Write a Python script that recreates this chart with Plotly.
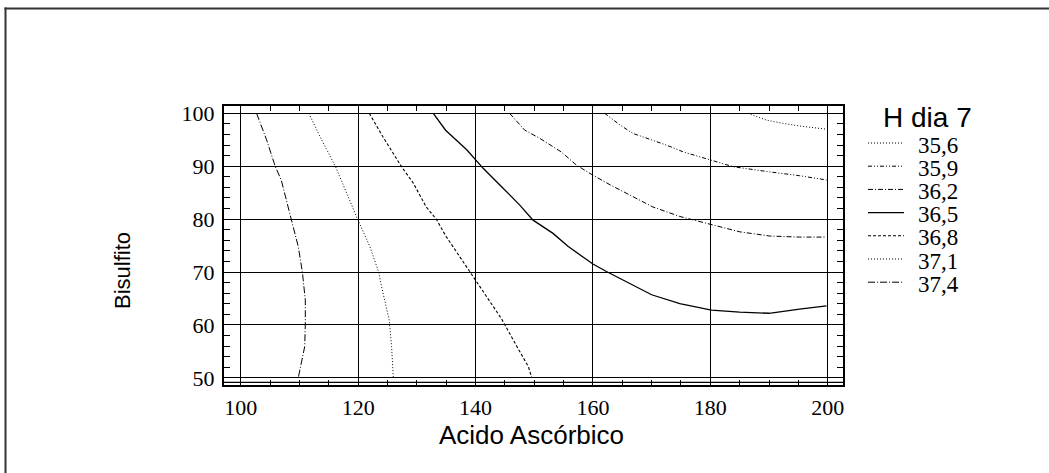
import plotly.graph_objects as go

# Contour levels of "H dia 7" and their line styles
levels = ["35,6", "35,9", "36,2", "36,5", "36,8", "37,1", "37,4"]

# Points (Acido Ascórbico, Bisulfito)
x_356 = [186.4, 189.6, 192.4, 195.2, 199.8]
y_356 = [100.0, 98.7, 98.1, 97.6, 97.0]

x_359 = [162.0, 164.6, 166.8, 170.0, 172.5, 175.4, 180.2, 183.9, 189.6, 195.2, 199.8]
y_359 = [100.0, 97.8, 96.2, 95.0, 94.0, 92.7, 91.2, 89.9, 89.0, 88.2, 87.4]

x_362 = [145.8, 148.4, 150.9, 154.6, 157.2, 160.0, 162.9, 165.7, 170.2, 174.8, 180.2, 185.0, 190.1, 195.2, 199.8]
y_362 = [100.0, 96.8, 95.3, 92.7, 90.2, 88.3, 86.5, 84.9, 82.3, 80.5, 78.9, 77.6, 76.8, 76.6, 76.6]

x_365 = [132.8, 134.9, 138.5, 140.0, 141.3, 144.1, 147.5, 149.8, 153.2, 155.8, 160.0, 162.3, 165.7, 170.0, 174.8, 180.2, 185.0, 190.0, 195.2, 199.8]
y_365 = [100.0, 96.8, 93.1, 91.2, 89.6, 86.5, 82.7, 79.8, 77.3, 74.8, 71.5, 70.1, 68.2, 65.7, 64.0, 62.8, 62.4, 62.2, 63.0, 63.6]

x_368 = [121.9, 124.2, 127.4, 129.4, 131.6, 133.3, 135.0, 137.3, 140.0, 142.7, 144.4, 146.4, 149.0, 149.6]
y_368 = [100.0, 95.6, 89.9, 86.8, 82.3, 80.0, 76.7, 72.9, 68.5, 64.1, 61.2, 57.2, 52.1, 50.0]

x_371 = [111.6, 113.5, 116.2, 118.0, 119.9, 122.0, 123.5, 124.0, 125.3, 125.7, 126.0]
y_371 = [100.0, 95.6, 89.8, 84.9, 80.0, 74.8, 70.0, 67.2, 60.9, 55.9, 50.0]

x_374 = [102.7, 104.4, 105.9, 106.9, 108.6, 109.8, 110.5, 111.0, 111.0, 110.9, 109.8]
y_374 = [100.0, 95.0, 89.9, 87.4, 80.0, 74.8, 70.0, 64.7, 60.1, 55.9, 50.0]

xs = [x_356, x_359, x_362, x_365, x_368, x_371, x_374]
ys = [y_356, y_359, y_362, y_365, y_368, y_371, y_374]

x_ticks = [100, 120, 140, 160, 180, 200]
y_ticks = [50, 60, 70, 80, 90, 100]

x_title = "Acido Ascórbico"
y_title = "Bisulfito"
legend_title = "H dia 7"

dashes = ["1px,2px", "4px,2px,1px,2px,1px,2px", "5px,2px,1px,2px", "solid",
          "3px,2px", "1px,2px", "7px,2px,1px,2px"]
widths = [1, 1, 1, 1.3, 1.1, 1, 1]

W, H = 1049, 473
L, R, T, B = 224, 843, 106, 385
pw, ph = R - L, B - T

def px(xp):
    return (xp - L) / pw

def py(yp):
    return (B - yp) / ph

fig = go.Figure()
for xv, yv, d, w, name in zip(xs, ys, dashes, widths, levels):
    fig.add_trace(go.Scatter(x=xv, y=yv, mode="lines", name=name,
                             line=dict(color="black", width=w, dash=d),
                             showlegend=False, hoverinfo="skip"))

serif = "Liberation Serif"
sans = "Liberation Sans"

shapes = []
annotations = []

# outer border (only top and left edges visible)
shapes.append(dict(type="line", xref="paper", yref="paper",
                   x0=px(4.5), x1=px(1049), y0=py(8.5), y1=py(8.5),
                   line=dict(color="#333333", width=2), layer="below"))
shapes.append(dict(type="line", xref="paper", yref="paper",
                   x0=px(5.5), x1=px(5.5), y0=py(7.5), y1=py(473),
                   line=dict(color="#333333", width=2), layer="below"))
# extra axis line just above the bottom frame
shapes.append(dict(type="line", xref="paper", yref="paper",
                   x0=0, x1=1, y0=py(382.3), y1=py(382.3),
                   line=dict(color="black", width=1.2)))

# axis titles
annotations.append(dict(text=x_title, xref="paper", yref="paper",
                        x=px(531), y=py(435), xanchor="center", yanchor="middle",
                        showarrow=False, font=dict(family=sans, size=26, color="black")))
annotations.append(dict(text=y_title, xref="paper", yref="paper",
                        x=px(122), y=py(271), xanchor="center", yanchor="middle",
                        textangle=-90,
                        showarrow=False, font=dict(family=sans, size=22, color="black")))

# legend
annotations.append(dict(text=legend_title, xref="paper", yref="paper",
                        x=px(927), y=py(118), xanchor="center", yanchor="middle",
                        showarrow=False, font=dict(family=sans, size=28, color="black")))
for i, (name, d, w) in enumerate(zip(levels, dashes, widths)):
    yc = 145 + i * 23.2
    shapes.append(dict(type="line", xref="paper", yref="paper",
                       x0=px(868), x1=px(904), y0=py(yc - 2), y1=py(yc - 2),
                       line=dict(color="black", width=w, dash=d)))
    annotations.append(dict(text=name, xref="paper", yref="paper",
                            x=px(916), y=py(yc), xanchor="left", yanchor="middle",
                            showarrow=False, font=dict(family=serif, size=23, color="black")))

axis_common = dict(showline=True, linecolor="black", linewidth=2, mirror="ticks",
                   showgrid=True, gridcolor="black", gridwidth=1.2,
                   ticks="inside", ticklen=5, tickcolor="black", tickwidth=1,
                   zeroline=False,
                   tickfont=dict(family=serif, size=22, color="black"))

fig.update_layout(
    width=W, height=H,
    margin=dict(l=L, r=W - R, t=T, b=H - B),
    paper_bgcolor="white", plot_bgcolor="white",
    xaxis=dict(range=[97.15, 202.6], tickvals=x_ticks,
               minor=dict(dtick=5, tick0=100, ticks="inside", ticklen=5, tickcolor="black", showgrid=False),
               ticklabelstandoff=2,
               **axis_common),
    yaxis=dict(range=[48.64, 101.38], tickvals=y_ticks,
               minor=dict(dtick=2, tick0=50, ticks="inside", ticklen=6, tickcolor="black", showgrid=False),
               ticklabelstandoff=3,
               **axis_common),
    shapes=shapes,
    annotations=annotations,
    showlegend=False,
)

fig.write_html("out.html")
